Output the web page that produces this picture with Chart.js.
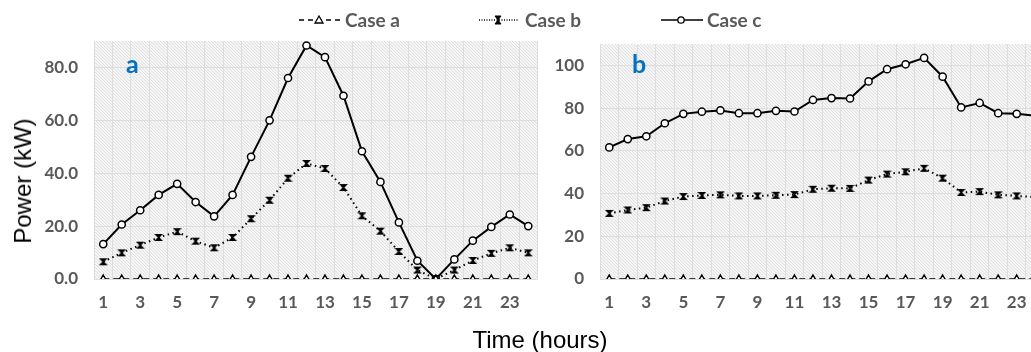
<!DOCTYPE html>
<html><head><meta charset="utf-8">
<script src="https://cdn.jsdelivr.net/npm/chart.js@4.4.0/dist/chart.umd.min.js"></script>
<style>
html,body{margin:0;padding:0;width:1031px;height:352px;overflow:hidden;background:#fff;}
#wrap{position:relative;width:1031px;height:352px;overflow:hidden;}
canvas{position:absolute;top:0;}
#ca{left:0;}
#cb{left:545px;}
.lg{position:absolute;top:10px;font-family:Lato,"Open Sans",sans-serif;font-weight:bold;font-size:19px;color:#595959;line-height:20px;white-space:nowrap;}
.sw{position:absolute;top:10px;}
.pl{position:absolute;font-family:Lato,"Open Sans",sans-serif;font-weight:bold;font-size:25px;color:#0070C0;line-height:26px;}
.at{position:absolute;font-family:"Liberation Sans",Arial,sans-serif;font-size:24px;color:#000;white-space:nowrap;line-height:26px;}
</style></head>
<body><div id="wrap">
<canvas id="ca" width="545" height="352"></canvas>
<canvas id="cb" width="510" height="352"></canvas>

<svg class="sw" style="left:297px" width="46" height="20"><line x1="2" y1="10" x2="44" y2="10" stroke="#000" stroke-width="1.5" stroke-dasharray="5,4"/><polygon points="22,6 26,13 18,13" fill="#fff" stroke="#000" stroke-width="1.3"/></svg>
<div class="lg" style="left:345px">Case a</div>
<svg class="sw" style="left:477px" width="44" height="20"><line x1="2" y1="10" x2="42" y2="10" stroke="#000" stroke-width="1.3" stroke-dasharray="1,1.5"/><polygon points="18,6 24,6 18,14 24,14" fill="#000" stroke="#000" stroke-width="1"/></svg>
<div class="lg" style="left:525px">Case b</div>
<svg class="sw" style="left:659px" width="46" height="20"><line x1="2" y1="10" x2="44" y2="10" stroke="#000" stroke-width="1.5"/><circle cx="22" cy="10" r="3.2" fill="#fff" stroke="#000" stroke-width="1.3"/></svg>
<div class="lg" style="left:707px">Case c</div>

<div class="pl" style="left:126px;top:50px">a</div>
<div class="pl" style="left:632px;top:50px">b</div>

<div class="at" style="left:23px;top:181px;transform:translate(-50%,-50%) rotate(-90deg);">Power (kW)</div>
<div class="at" style="left:540px;top:340px;transform:translate(-50%,-50%);">Time (hours)</div>
</div>
<script>
// ---------- data ----------
const hours = ['1','2','3','4','5','6','7','8','9','10','11','12','13','14','15','16','17','18','19','20','21','22','23','24'];

const a_caseA = [0,0,0,0,0,0,0,0,0,0,0,0,0,0,0,0,0,0,0,0,0,0,0,0];
const a_caseB = [6.5,9.9,12.8,15.7,17.9,14.3,11.8,15.7,22.8,29.8,38.1,43.7,41.8,34.6,23.9,18.1,10.4,3.4,0,3.4,7.0,9.7,11.8,9.9];
const a_caseC = [13.2,20.6,26.0,31.8,36.0,29.1,23.7,31.8,46.2,60.0,76.0,88.3,83.9,69.3,48.3,36.7,21.4,6.9,0,7.4,14.5,19.7,24.4,20.0];

const b_caseA = [0,0,0,0,0,0,0,0,0,0,0,0,0,0,0,0,0,0,0,0,0,0,0,0];
const b_caseB = [30.7,32.3,33.4,36.5,38.6,39.1,39.4,38.9,38.9,39.2,39.5,42.0,42.5,42.4,46.3,49.1,50.2,51.8,47.2,40.5,40.9,39.4,38.9,38.3];
const b_caseC = [61.6,65.5,66.8,72.9,77.3,78.3,78.9,77.6,77.6,78.7,78.4,83.8,84.7,84.5,92.5,98.2,100.5,103.5,94.7,80.3,82.4,77.6,77.3,76.4];

const yTicksA = [0,20,40,60,80];
const yTicksB = [0,20,40,60,80,100];

// ---------- marker for Case b (hourglass) ----------
function hourglass(){
  const c=document.createElement('canvas'); c.width=9; c.height=9;
  const g=c.getContext('2d');
  g.fillStyle='#000';
  g.beginPath(); g.moveTo(1.5,1.5); g.lineTo(7.5,1.5); g.lineTo(1.5,7.5); g.lineTo(7.5,7.5); g.closePath(); g.fill();
  g.strokeStyle='#000'; g.lineWidth=1.2; g.stroke();
  return c;
}
const hg = hourglass();

const hatch = {
  id:'hatch',
  beforeDraw(chart){
    const {ctx, chartArea:a} = chart;
    ctx.save();
    ctx.fillStyle='#f8f8f8';
    ctx.fillRect(a.left,a.top,a.right-a.left,a.bottom-a.top);
    ctx.beginPath(); ctx.rect(a.left,a.top,a.right-a.left,a.bottom-a.top); ctx.clip();
    ctx.strokeStyle='#d8d8d8'; ctx.lineWidth=0.9;
    ctx.beginPath();
    const h=a.bottom-a.top;
    for(let x=a.left-h; x<a.right; x+=3.2){
      ctx.moveTo(x,a.top); ctx.lineTo(x+h,a.bottom);
    }
    ctx.stroke();
    ctx.restore();
  }
};

function makeChart(id, A, B, C, ymax, yTicks, fmt, yWidth, padTop, padRight){
  return new Chart(document.getElementById(id), {
    type:'line',
    data:{
      labels: hours,
      datasets:[
        {label:'Case a', data:A, borderColor:'#000', borderWidth:1.5, borderDash:[6,4], pointStyle:'triangle', pointRadius:4, pointBackgroundColor:'#fff', pointBorderColor:'#000', pointBorderWidth:1.4, tension:0},
        {label:'Case b', data:B, borderColor:'#000', borderWidth:2, borderDash:[1.5,3.5], pointStyle:hg, pointRadius:4, tension:0},
        {label:'Case c', data:C, borderColor:'#000', borderWidth:2, pointStyle:'circle', pointRadius:3.6, pointBackgroundColor:'#fff', pointBorderColor:'#000', pointBorderWidth:1.5, tension:0}
      ]
    },
    options:{
      responsive:false, animation:false, devicePixelRatio:1,
      layout:{padding:{top:padTop, right:padRight, left:0, bottom:0}},
      plugins:{legend:{display:false}, tooltip:{enabled:false}},
      scales:{
        x:{
          offset:true,
          grid:{offset:true, color:'#dedede', lineWidth:1, drawTicks:false},
          border:{display:false},
          ticks:{autoSkip:false, maxRotation:0, padding:13, color:'#595959',
            font:{family:'Lato', weight:'bold', size:17},
            callback(v,i){ return i%2===0 ? this.getLabelForValue(v) : ''; }},
          afterFit(s){ s.height = 73; }
        },
        y:{
          min:0, max:ymax,
          grid:{color:'#dedede', lineWidth:1, drawTicks:false},
          border:{display:false},
          ticks:{stepSize:20, padding:16, color:'#595959',
            font:{family:'Lato', weight:'bold', size:17},
            callback(v){ return fmt(v); }},
          afterBuildTicks(s){ s.ticks = yTicks.map(v=>({value:v})); },
          afterFit(s){ s.width = yWidth; }
        }
      }
    },
    plugins:[hatch]
  });
}

makeChart('ca', a_caseA, a_caseB, a_caseC, 90, yTicksA, v=>v.toFixed(1), 94, 41, 7.5);
makeChart('cb', b_caseA, b_caseB, b_caseC, 110, yTicksB, v=>String(v), 55, 44, 10.5);
</script>
</body></html>
